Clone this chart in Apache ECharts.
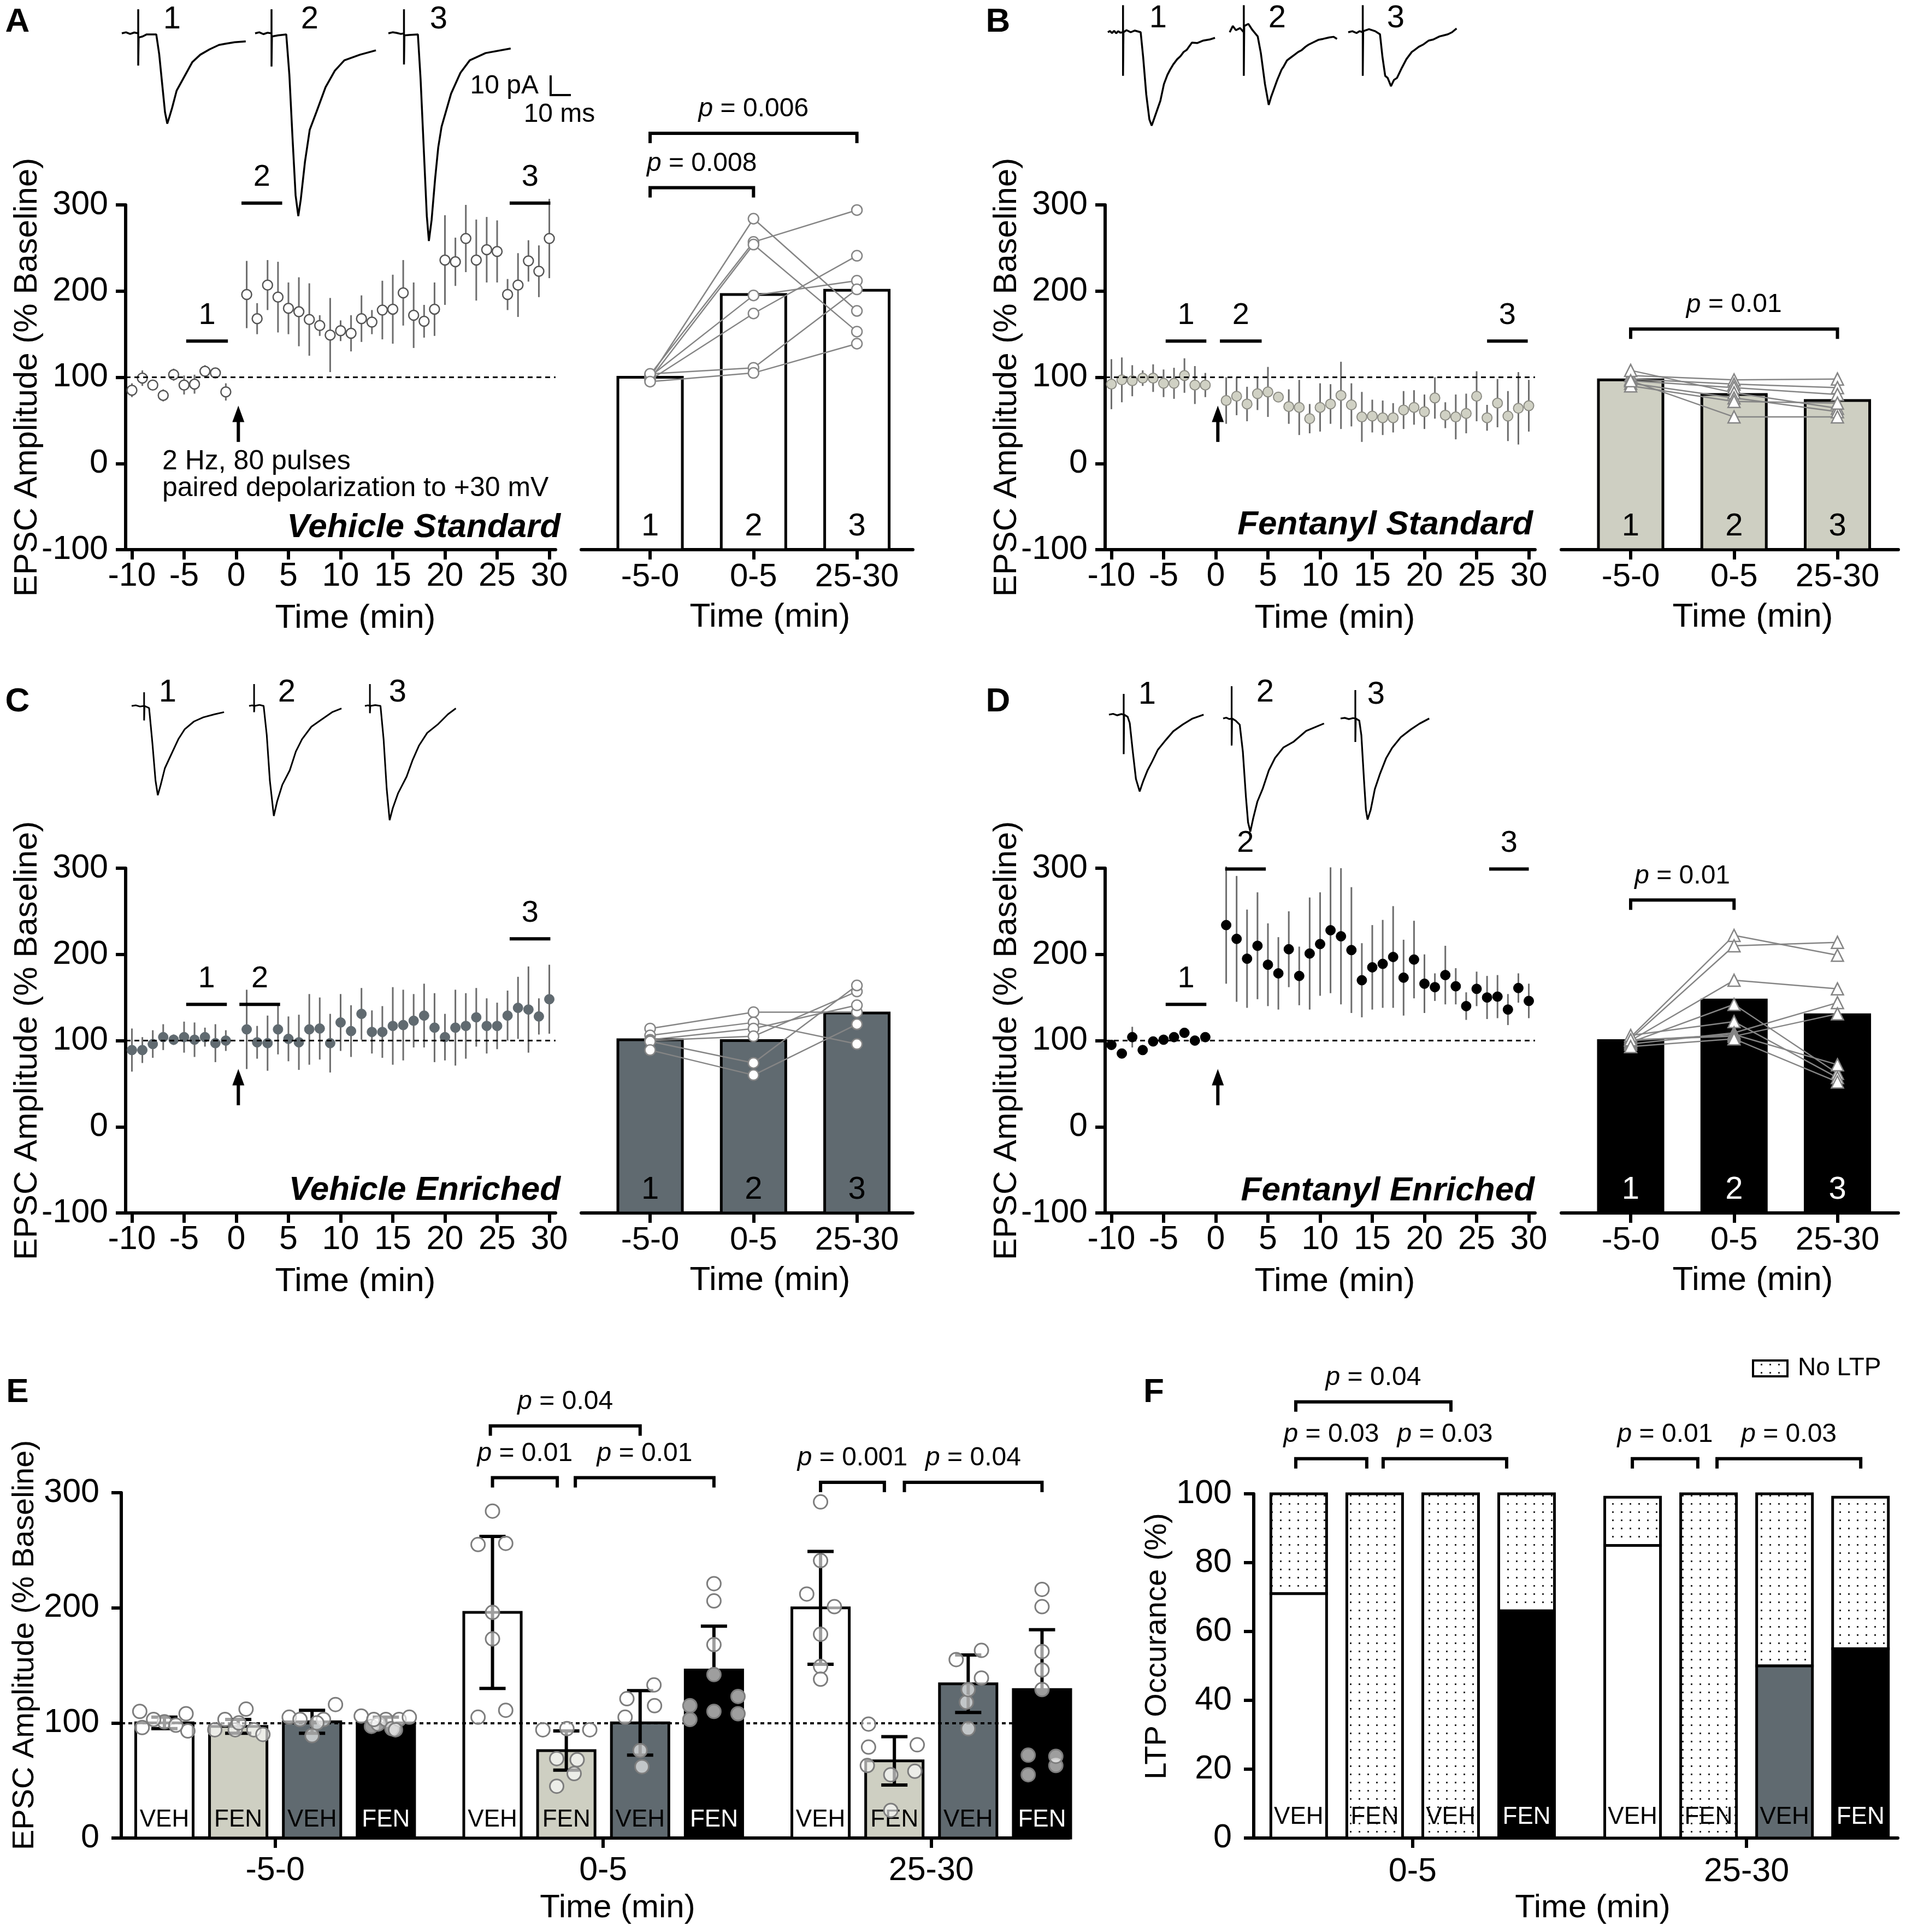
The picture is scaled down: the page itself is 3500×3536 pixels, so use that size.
<!DOCTYPE html>
<html lang="en">
<head>
<meta charset="UTF-8">
<title>EPSC LTP figure</title>
<style>
  html, body { margin: 0; padding: 0; background: #ffffff; }
  #chart { width: 3500px; height: 3536px; }
</style>
</head>
<body>
<div id="chart"></div>
<script src="https://cdn.jsdelivr.net/npm/echarts@6.0.0/dist/echarts.min.js"></script>
<script>
var FONT = "'Liberation Sans', Arial, Helvetica, sans-serif";
var TICK = 61;

// ---------- time course data (% baseline, mean and SEM) ----------
var minutes = [-10, -9, -8, -7, -6, -5, -4, -3, -2, -1, 1, 2, 3, 4, 5, 6, 7, 8, 9, 10,
    11, 12, 13, 14, 15, 16, 17, 18, 19, 20, 21, 22, 23, 24, 25, 26, 27, 28, 29, 30];
var timeTicks = [-10, -5, 0, 5, 10, 15, 20, 25, 30];

var aMean = [85, 99, 91, 79, 103, 91, 92, 107, 105, 83, 196, 168, 207, 193, 180, 176, 167, 160, 149, 154,
    151, 168, 164, 178, 179, 198, 172, 165, 179, 236, 234, 261, 236, 248, 246, 196, 207, 235, 223, 261];
var aSem = [8, 9, 6, 7, 7, 11, 11, 7, 5, 10, 39, 18, 29, 41, 30, 40, 42, 12, 43, 12,
    21, 27, 14, 34, 40, 38, 38, 19, 31, 52, 28, 39, 47, 38, 36, 18, 37, 24, 30, 46];
var bMean = [92, 97, 96, 99, 99, 93, 93, 102, 91, 91, 73, 78, 69, 81, 83, 77, 66, 65, 52, 65,
    69, 79, 68, 54, 55, 53, 53, 62, 65, 60, 76, 56, 54, 58, 78, 53, 70, 55, 64, 67];
var bSem = [29, 26, 18, 9, 16, 16, 18, 20, 22, 14, 27, 22, 20, 19, 29, 5, 20, 32, 17, 28,
    23, 39, 25, 29, 19, 20, 17, 22, 20, 20, 24, 15, 26, 23, 29, 15, 28, 29, 42, 30];
var cMean = [89, 89, 96, 104, 101, 104, 101, 104, 97, 100, 113, 98, 97, 113, 102, 98, 113, 114, 97, 121,
    111, 131, 110, 110, 117, 118, 123, 129, 115, 104, 115, 117, 127, 117, 117, 129, 138, 136, 128, 148];
var cSem = [25, 15, 16, 15, 6, 18, 20, 11, 22, 12, 46, 19, 32, 29, 26, 32, 41, 36, 34, 33,
    30, 30, 25, 30, 45, 41, 31, 37, 40, 27, 44, 38, 34, 32, 27, 29, 36, 50, 21, 40];
var dMean = [95, 85, 104, 89, 99, 101, 104, 109, 100, 104, 234, 218, 195, 210, 188, 178, 206, 175, 201, 212,
    228, 221, 205, 170, 185, 189, 197, 173, 194, 166, 162, 176, 163, 140, 160, 150, 151, 136, 161, 146];
var dSem = [5, 3, 12, 3, 2, 4, 4, 5, 4, 4, 68, 73, 57, 62, 48, 42, 44, 34, 65, 60,
    73, 79, 73, 43, 49, 51, 59, 44, 45, 34, 16, 34, 21, 16, 20, 25, 25, 18, 17, 20];

// epoch bars above the time courses: [from min, to min, level]
var aMarks = [[-4.8, -0.8, 142], [0.5, 4.4, 302], [26.2, 30.1, 302]];
var bMarks = [[-4.8, -0.9, 142], [0.4, 4.4, 142], [26.0, 29.9, 142]];
var cMarks = [[-4.8, -0.9, 142], [0.3, 4.2, 142], [26.2, 30.1, 218]];
var dMarks = [[-4.8, -0.9, 142], [0.9, 4.8, 299], [26.2, 30.0, 299]];
var stimArrow = [0.2, 25, 67];

// ---------- epoch bar charts ----------
var barCats = ['-5-0', '0-5', '25-30'];
var aBar = [100, 196, 201];
var aCells = [[103, 257, 294], [100, 284, 177], [98, 254, 153], [101, 195, 212], [97, 174, 241], [104, 111, 202], [95, 105, 139]];
var bBar = [97, 80, 73];
var bCells = [[102, 97, 98], [98, 92, 88], [96, 88, 80], [108, 82, 64], [93, 76, 60], [90, 72, 70], [96, 54, 54]];
var cBar = [101, 100, 132];
var cCells = [[114, 133, 133], [106, 121, 96], [101, 114, 141], [100, 105, 157], [99, 74, 164], [89, 60, 119]];
var dBar = [100, 147, 130];
var dCells = [[104, 222, 199], [102, 210, 214], [100, 170, 160], [98, 142, 62], [106, 122, 57],
    [96, 109, 144], [100, 107, 72], [101, 105, 131], [93, 102, 52]];
var aSig = [[0, 1, 320], [0, 2, 383]];
var aSigP = ['0.008', '0.006'];
var bSig = [[0, 2, 156]];
var bSigP = ['0.01'];
var dSig = [[0, 1, 263]];
var dSigP = ['0.01'];

// ---------- panel E: group summary (mean, SD, cells as [jitter, value]) ----------
var eGroups = ['-5-0', '0-5', '25-30'];
var eVehStd = [100, 196, 200];
var eVehStdSd = [5, 66, 49];
var eFenStd = [97, 76, 67];
var eFenStdSd = [6, 17, 21];
var eVehEnr = [101, 100, 134];
var eVehEnrSd = [10, 28, 25];
var eFenEnr = [100, 146, 129];
var eFenEnrSd = [5, 38, 52];
var ePtsVehStd = [
    [[-0.41, 110], [-0.37, 96], [0.36, 108], [0.39, 93], [0, 101], [-0.18, 103], [0.19, 98]],
    [[0, 284], [-0.24, 255], [0.22, 256], [0, 196], [0, 173], [0.22, 111], [-0.24, 105]],
    [[0, 292], [0, 241], [-0.23, 212], [0.23, 201], [0, 177], [0, 149], [0, 138]]
];
var ePtsFenStd = [
    [[-0.39, 94], [-0.22, 103], [0.13, 112], [-0.05, 94], [0.26, 94], [0.41, 90], [0.01, 100]],
    [[-0.39, 94], [0.01, 95], [0.39, 94], [-0.16, 69], [0.18, 68], [0.13, 56], [-0.16, 45]],
    [[-0.43, 99], [-0.43, 79], [0.38, 81], [-0.45, 63], [0.34, 58], [-0.06, 55], [-0.06, 24]]
];
var ePtsVehEnr = [
    [[-0.38, 105], [-0.2, 103], [0, 89], [0.19, 103], [0.39, 116], [0.08, 100]],
    [[-0.22, 121], [0.23, 133], [0.24, 115], [-0.25, 105], [0, 76], [0.03, 62]],
    [[-0.2, 155], [0.22, 163], [0.22, 139], [-0.03, 118], [0, 95], [0, 129]]
];
var ePtsFenEnr = [
    [[-0.41, 106], [-0.24, 97], [-0.13, 99], [0, 103], [0.1, 95], [0.22, 103], [0.39, 105], [0.16, 94], [-0.2, 103]],
    [[0, 221], [0, 206], [0, 168], [0, 142], [0.4, 123], [0.4, 108], [-0.4, 103], [0, 110], [-0.4, 115]],
    [[0, 216], [0, 201], [0, 162], [0, 146], [0, 129], [-0.23, 72], [0.23, 63], [-0.23, 55], [0.23, 71]]
];
var eSig = [[0.656, 1.1125, 358], [0.6625, 0.86, 313], [0.915, 1.3375, 313], [1.6625, 1.857, 309], [1.918, 2.3375, 309]];
var eSigP = ['0.04', '0.01', '0.01', '0.001', '0.04'];

// ---------- panel F: LTP occurrence (%) ----------
var fGroups = ['0-5', '25-30'];
var fLtpVehStd = [71, 85];
var fNoVehStd = [29, 14];
var fLtpFenStd = [0, 0];
var fNoFenStd = [100, 100];
var fLtpVehEnr = [0, 50];
var fNoVehEnr = [100, 50];
var fLtpFenEnr = [66, 55];
var fNoFenEnr = [34, 44];
var fSig = [[-0.35, 0.1146, 126.7], [-0.35, -0.1375, 110.2], [-0.0884, 0.2815, 110.2], [0.658, 0.854, 110.2], [0.9116, 1.342, 110.2]];
var fSigP = ['0.04', '0.03', '0.03', '0.01', '0.03'];

// ---------- example EPSC traces: [time, current] ----------
var trA1 = [[0, 0], [2, 0.5], [4, -0.3], [6, 0.4], [7.9, 0], [7.9, 11.6], [7.9, -15.5], [8.1, -2], [10, -1.5], [12, -0.5], [14, -0.5],
    [16.6, -0.5], [18, -10], [19.5, -25], [20.8, -38], [21.9, -43.5], [23, -40], [24.2, -36], [26.4, -27.6], [30.2, -20.7],
    [34, -13.8], [37.8, -10.3], [42.3, -7.7], [46.8, -5.6], [50, -5], [54.4, -4.3], [59.7, -3.9]];
var trA2 = [[0, 0], [2, 0.5], [4, -0.4], [6, 0.3], [7.9, 0], [7.9, 11.6], [7.9, -16], [8.1, -1.5], [11, -1], [15, -0.5], [16.5, -20],
    [18, -50], [19.5, -78], [20.8, -88], [22, -80], [24, -62], [26.3, -46.5], [29.5, -38], [33.9, -26], [38.4, -18], [43, -13],
    [50.5, -10.3], [58.2, -8.2]];
var trA3 = [[0, 0], [2, 0.5], [4, 0.2], [6, -0.3], [7.5, 0], [7.5, 11.6], [7.5, -15], [7.7, -1], [10, -0.8], [14.2, -0.5], [15.5, -22],
    [17, -55], [18.5, -88], [19.5, -100], [20.8, -90], [22.5, -70], [24, -55], [25.6, -45], [30.2, -29], [34.7, -19], [39.2, -13],
    [46.8, -9.5], [58.9, -7.3]];
var trB1 = [[0, 0], [1, 0.6], [2, -0.4], [3, 0.7], [4, -0.5], [5, 0.5], [6, -0.2], [7.3, 0], [7.3, 13], [7.3, -21], [7.5, 0], [9, 1],
    [11, 0], [13, 0.8], [15.8, 0], [17, -12], [18.5, -30], [20, -42], [21.1, -45], [22.5, -41], [25.3, -33], [27, -25], [28.7, -20.5],
    [30, -18], [31.5, -15.5], [33.4, -13], [35, -11.5], [36.5, -9.5], [38, -8.5], [40.5, -5], [43, -5.2], [46, -4], [49, -3.5], [51.6, -2.7]];
var trB2 = [[0, 0], [1.5, 3], [3, 1], [5, 2], [6.8, 0], [6.8, 13], [6.8, -21], [7, 3], [9, 4], [11, 1], [13.5, -2], [15, -10],
    [17, -25], [18.8, -35], [20, -31], [22.9, -23], [25, -18], [26, -16.5], [27.6, -13.6], [29, -12.5], [31, -11], [33, -9.5],
    [34.7, -8.6], [36.5, -7], [38, -6], [40, -5], [42.9, -3.6], [45, -3.2], [48, -2.5], [50, -2.2], [51.7, -3.2]];
var trB3 = [[0, 0], [2, 0.5], [4, -0.4], [5.5, 0.5], [7, 0], [7, 13], [7, -21], [7.2, 0.5], [10, 1.5], [13, 0.5], [15.3, -1],
    [16.5, -12], [17.8, -21], [19, -22], [20.6, -26], [22, -23], [23.5, -22], [25.9, -17], [28, -13], [30.6, -9.5], [32, -8.5],
    [34, -7], [36, -6], [38.8, -4], [41, -3.5], [44, -2], [46, -1.5], [48, -1], [50, 0], [52.2, 1.8]];
var trC1 = [[0, 0], [2, 0.3], [4, -0.3], [6, 0], [6, 6.6], [6, -7], [6.2, 0], [8.4, -1], [10, -18], [11.5, -36], [12.6, -43], [14, -38],
    [16, -30], [19.7, -22], [22.5, -16], [25.5, -11.3], [30, -7.5], [34.5, -5.5], [40, -4], [44.5, -3]];
var trC2 = [[0, 0], [1.5, 0.3], [2.4, 0], [2.4, 10.5], [2.4, -3], [2.6, 0], [5, 0.5], [7, 0], [8.5, -14], [10, -36], [11.9, -53],
    [13.5, -46], [16, -38], [19.6, -31], [22.5, -22], [25.5, -16], [30, -10], [34.3, -7], [40, -3], [44.5, -1.2]];
var trC3 = [[0, 0], [1.5, 0.3], [2.4, 0], [2.4, 10.5], [2.4, -3.5], [2.6, 0], [5, 0.4], [7.5, 0], [9, -16], [10.5, -40], [11.9, -55],
    [13.5, -49], [16, -42], [20.1, -34], [23, -26], [26.1, -19], [30, -13], [35, -9], [40, -4], [43.8, -1.2]];
var trD1 = [[0, 0], [2, 0.4], [4, -0.3], [6, 0.3], [7.1, 0], [7.1, 10], [7.1, -19], [7.3, 0], [9, -1], [10, -4], [11.5, -18], [13, -31],
    [14.8, -37], [16.5, -32], [18.5, -27], [20.8, -22.6], [23.5, -17], [26.7, -13], [31, -8], [35.6, -4.7], [40, -2], [45.6, 0]];
var trD2 = [[0, 0], [1.5, 0.4], [3, -0.3], [4.1, 0], [4.1, 15.5], [4.1, -13], [4.3, 0], [6, -1], [8, -3], [9.5, -16], [11, -38],
    [12, -50], [13.1, -54.5], [14.5, -48], [16.5, -40], [19, -34], [22, -25], [25, -19], [29, -14], [33.8, -11.3], [40, -6], [48.6, -2.4]];
var trD3 = [[0, 0], [2, 0.3], [4, -0.3], [6, 0.2], [7.1, 0], [7.1, 13.7], [7.1, -11.3], [7.3, 0], [9, -1], [10, -8], [11.3, -30],
    [12.2, -44], [13, -48.7], [14.5, -44], [16.5, -34], [19, -26.6], [22, -19], [24.8, -14.2], [29, -9], [33.8, -5.3], [38, -2.5], [42.7, 0]];

// ---------- colours ----------
var C_BEIGE = '#cecfc2';
var C_SLATE = '#606a70';

// dotted fill used for "No LTP"
var dots = document.createElement('canvas');
dots.width = 16; dots.height = 15;
(function () {
    var ctx = dots.getContext('2d');
    ctx.fillStyle = '#ffffff';
    ctx.fillRect(0, 0, 16, 15);
    ctx.fillStyle = '#2a2a2a';
    ctx.fillRect(7, 6, 3, 3);
})();
var dotFill = {image: dots, repeat: 'repeat'};

// ---------- helpers ----------
function textStyle(s, size, o) {
    o = o || {};
    return {
        text: s, fontSize: size, fontFamily: FONT,
        fontWeight: o.bold ? 'bold' : 'normal', fontStyle: o.italic ? 'italic' : 'normal',
        fill: o.color || '#000', align: o.align || 'center', verticalAlign: 'middle',
        textAlign: o.align || 'center', textVerticalAlign: 'middle',
        rich: {i: {fontStyle: 'italic', fontSize: size, fontFamily: FONT, fill: o.color || '#000'}}
    };
}
function txt(x, y, s, size, o) {
    return {type: 'text', x: x, y: y, silent: true, z: 50, style: textStyle(s, size, o)};
}

function errRender(params, api) {
    var x = api.value(0), m = api.value(1), s = api.value(2);
    var p1 = api.coord([x, m - s]), p2 = api.coord([x, m + s]);
    return {type: 'line', shape: {x1: p1[0], y1: p1[1], x2: p2[0], y2: p2[1]}, style: {stroke: '#6d6d6d', lineWidth: 3}};
}
function markRender(params, api) {
    var p1 = api.coord([api.value(0), api.value(2)]), p2 = api.coord([api.value(1), api.value(2)]);
    return {type: 'group', children: [
        {type: 'line', shape: {x1: p1[0], y1: p1[1], x2: p2[0], y2: p2[1]}, style: {stroke: '#000', lineWidth: 6}},
        {type: 'text', x: (p1[0] + p2[0]) / 2, y: p1[1] - 47, style: textStyle(String(params.dataIndex + 1), 56)}
    ]};
}
function arrowRender(params, api) {
    var tail = api.coord([api.value(0), api.value(1)]), tip = api.coord([api.value(0), api.value(2)]);
    var hh = 30, hw = 11;
    return {type: 'group', children: [
        {type: 'line', shape: {x1: tail[0], y1: tail[1], x2: tip[0], y2: tip[1] + hh - 2}, style: {stroke: '#000', lineWidth: 6}},
        {type: 'polygon', shape: {points: [[tip[0], tip[1]], [tip[0] - hw, tip[1] + hh], [tip[0] + hw, tip[1] + hh]]}, style: {fill: '#000'}}
    ]};
}
function makeBarRender(fill, labelColor) {
    return function (params, api) {
        var x = api.value(0), v = api.value(1);
        var w = api.size([0.65, 0])[0] - 5;
        var top = api.coord([x, v]), bot = api.coord([x, -100]);
        return {type: 'group', children: [
            {type: 'rect', shape: {x: top[0] - w / 2, y: top[1], width: w, height: bot[1] - top[1]},
                style: {fill: fill, stroke: '#000', lineWidth: 5}},
            {type: 'text', x: top[0], y: bot[1] - 42, style: textStyle(String(params.dataIndex + 1), 58, {color: labelColor})}
        ]};
    };
}
function makeSigRender(labels) {
    return function (params, api) {
        var y = api.value(2);
        var p1 = api.coord([api.value(0), y]), p2 = api.coord([api.value(1), y]);
        var t = 18;
        return {type: 'group', children: [
            {type: 'polyline', shape: {points: [[p1[0], p1[1] + t], [p1[0], p1[1]], [p2[0], p2[1]], [p2[0], p2[1] + t]]},
                style: {stroke: '#000', lineWidth: 6, fill: 'none'}},
            {type: 'text', x: (p1[0] + p2[0]) / 2, y: p1[1] - 44, style: textStyle('{i|p} = ' + labels[params.dataIndex], 48)}
        ]};
    };
}
function makeEBarRender(fill, label, labelColor) {
    return function (params, api) {
        var x = api.value(0), m = api.value(1), sd = api.value(2);
        var w = api.size([0.1833, 0])[0] - 5;
        var top = api.coord([x, m]), bot = api.coord([x, 0]);
        var hi = api.coord([x, m + sd]), lo = api.coord([x, m - sd]);
        var cw = 24;
        return {type: 'group', children: [
            {type: 'rect', shape: {x: top[0] - w / 2, y: top[1], width: w, height: bot[1] - top[1]},
                style: {fill: fill, stroke: '#000', lineWidth: 5}},
            {type: 'text', x: top[0], y: bot[1] - 33, style: textStyle(label, 44, {color: labelColor})},
            {type: 'line', shape: {x1: hi[0], y1: hi[1], x2: lo[0], y2: lo[1]}, style: {stroke: '#000', lineWidth: 6}},
            {type: 'line', shape: {x1: hi[0] - cw, y1: hi[1], x2: hi[0] + cw, y2: hi[1]}, style: {stroke: '#000', lineWidth: 6}},
            {type: 'line', shape: {x1: lo[0] - cw, y1: lo[1], x2: lo[0] + cw, y2: lo[1]}, style: {stroke: '#000', lineWidth: 6}}
        ]};
    };
}
function makeFRender(fill, label, labelColor) {
    return function (params, api) {
        var x = api.value(0), l = api.value(1), n = api.value(2);
        var w = api.size([0.1751, 0])[0] - 5;
        var p0 = api.coord([x, 0]), p1 = api.coord([x, l]), p2 = api.coord([x, l + n]);
        var ch = [];
        if (n > 0) {
            ch.push({type: 'rect', shape: {x: p0[0] - w / 2, y: p2[1], width: w, height: p1[1] - p2[1]},
                style: {fill: dotFill, stroke: '#000', lineWidth: 5}});
        }
        if (l > 0) {
            ch.push({type: 'rect', shape: {x: p0[0] - w / 2, y: p1[1], width: w, height: p0[1] - p1[1]},
                style: {fill: fill, stroke: '#000', lineWidth: 5}});
        }
        ch.push({type: 'text', x: p0[0], y: p0[1] - 38, style: textStyle(label, 44, {color: l > 0 ? labelColor : '#000'})});
        return {type: 'group', children: ch};
    };
}

var axisLineStyle = {color: '#000', width: 6};

// ---------- build option ----------
var option = {
    animation: false,
    backgroundColor: '#ffffff',
    textStyle: {fontFamily: FONT},
    grid: [], xAxis: [], yAxis: [], series: [], graphic: []
};

function addGrid(box) {
    option.grid.push({left: box[0], top: box[1], width: box[2], height: box[3], containLabel: false, outerBoundsMode: 'none'});
    return option.grid.length - 1;
}

function timeAxes(g) {
    option.xAxis.push({
        gridIndex: g, type: 'value', min: -10.6, max: 30.6,
        axisLine: {onZero: false, lineStyle: axisLineStyle},
        axisTick: {customValues: timeTicks, length: 18, lineStyle: axisLineStyle},
        axisLabel: {customValues: timeTicks, margin: 19, fontSize: TICK, color: '#000', fontFamily: FONT},
        splitLine: {show: false},
        name: 'Time (min)', nameLocation: 'middle', nameGap: 95, nameMoveOverlap: false,
        nameTextStyle: {fontSize: 62, color: '#000', fontFamily: FONT, padding: [0, 0, 0, 54]}
    });
    option.yAxis.push({
        gridIndex: g, type: 'value', min: -100, max: 300, interval: 100,
        axisLine: {show: true, onZero: false, lineStyle: axisLineStyle},
        axisTick: {show: true, length: 18, lineStyle: axisLineStyle},
        axisLabel: {margin: 32, fontSize: TICK, color: '#000', fontFamily: FONT},
        splitLine: {show: false},
        name: 'EPSC Amplitude (% Baseline)', nameLocation: 'middle', nameGap: 150, nameMoveOverlap: false,
        nameTextStyle: {fontSize: 60, color: '#000', fontFamily: FONT}
    });
}
function barAxes(g, min, max) {
    option.xAxis.push({
        gridIndex: g, type: 'value', min: min, max: max,
        axisLine: {onZero: false, lineStyle: axisLineStyle},
        axisTick: {customValues: [0, 1, 2], length: 18, lineStyle: axisLineStyle},
        axisLabel: {customValues: [0, 1, 2], margin: 20, fontSize: 60, color: '#000', fontFamily: FONT,
            formatter: function (v) { return barCats[Math.round(v)]; }},
        splitLine: {show: false},
        name: 'Time (min)', nameLocation: 'middle', nameGap: 93, nameMoveOverlap: false,
        nameTextStyle: {fontSize: 62, color: '#000', fontFamily: FONT, padding: [0, 0, 0, 84]}
    });
    option.yAxis.push({gridIndex: g, type: 'value', min: -100, max: 300, show: false,
        axisLine: {onZero: false}, splitLine: {show: false}});
}

var timePanels = [
    {box: [230, 375, 787, 631], mean: aMean, sem: aSem, marks: aMarks, fill: '#ffffff', stroke: '#555555', bw: 2.5},
    {box: [2023, 375, 787, 631], mean: bMean, sem: bSem, marks: bMarks, fill: '#d0d1c4', stroke: '#8c8c84', bw: 2},
    {box: [230, 1589, 787, 631], mean: cMean, sem: cSem, marks: cMarks, fill: C_SLATE, stroke: C_SLATE, bw: 1},
    {box: [2023, 1589, 787, 631], mean: dMean, sem: dSem, marks: dMarks, fill: '#000000', stroke: '#000000', bw: 1}
];
var barPanels = [
    {box: [1064, 375, 607, 631], min: -0.666, max: 2.541, bars: aBar, cells: aCells, fill: '#ffffff', lc: '#000', sym: 'circle', sig: aSig, sigP: aSigP},
    {box: [2858, 375, 617, 631], min: -0.671, max: 2.589, bars: bBar, cells: bCells, fill: C_BEIGE, lc: '#000', sym: 'triangle', sig: bSig, sigP: bSigP},
    {box: [1064, 1589, 607, 631], min: -0.666, max: 2.541, bars: cBar, cells: cCells, fill: C_SLATE, lc: '#000', sym: 'circle', sig: [], sigP: []},
    {box: [2858, 1589, 617, 631], min: -0.671, max: 2.589, bars: dBar, cells: dCells, fill: '#000000', lc: '#fff', sym: 'triangle', sig: dSig, sigP: dSigP}
];

timePanels.forEach(function (p, k) {
    // time course
    var g = addGrid(p.box);
    timeAxes(g);
    option.series.push({
        type: 'line', xAxisIndex: g, yAxisIndex: g, data: [], z: 1, silent: true,
        markLine: {silent: true, symbol: 'none', label: {show: false}, animation: false,
            lineStyle: {color: '#000', type: [9, 7], width: 3}, data: [{yAxis: 100}]}
    });
    option.series.push({
        type: 'custom', xAxisIndex: g, yAxisIndex: g, z: 2, silent: true, renderItem: errRender,
        data: minutes.map(function (m, i) { return [m, p.mean[i], p.sem[i]]; })
    });
    option.series.push({
        type: 'scatter', xAxisIndex: g, yAxisIndex: g, z: 3, silent: true, symbol: 'circle', symbolSize: 18,
        itemStyle: {color: p.fill, borderColor: p.stroke, borderWidth: p.bw, opacity: 1},
        data: minutes.map(function (m, i) { return [m, p.mean[i]]; })
    });
    option.series.push({
        type: 'custom', xAxisIndex: g, yAxisIndex: g, z: 4, silent: true, clip: false, renderItem: markRender, data: p.marks
    });
    option.series.push({
        type: 'custom', xAxisIndex: g, yAxisIndex: g, z: 4, silent: true, clip: false, renderItem: arrowRender, data: [stimArrow]
    });

    // epoch bars
    var b = barPanels[k];
    var gb = addGrid(b.box);
    barAxes(gb, b.min, b.max);
    option.series.push({
        type: 'custom', xAxisIndex: gb, yAxisIndex: gb, z: 2, silent: true, renderItem: makeBarRender(b.fill, b.lc),
        data: b.bars.map(function (v, i) { return [i, v]; })
    });
    b.cells.forEach(function (cell) {
        option.series.push({
            type: 'line', xAxisIndex: gb, yAxisIndex: gb, z: 5, silent: true,
            data: cell.map(function (v, i) { return [i, v]; }),
            symbol: b.sym, symbolSize: b.sym === 'triangle' ? 22 : 19, showSymbol: true,
            lineStyle: {color: '#858585', width: 2.5},
            itemStyle: {color: '#ffffff', borderColor: '#858585', borderWidth: 2.5}
        });
    });
    if (b.sig.length) {
        option.series.push({
            type: 'custom', xAxisIndex: gb, yAxisIndex: gb, z: 6, silent: true, clip: false,
            renderItem: makeSigRender(b.sigP), data: b.sig
        });
    }
});

// ---------- panel E ----------
var gE = addGrid([222, 2732, 1735, 632]);
option.xAxis.push({
    gridIndex: gE, type: 'value', min: -0.469, max: 2.42,
    axisLine: {onZero: false, lineStyle: axisLineStyle},
    axisTick: {customValues: [0, 1, 2], length: 18, lineStyle: axisLineStyle},
    axisLabel: {customValues: [0, 1, 2], margin: 30, fontSize: TICK, color: '#000', fontFamily: FONT,
        formatter: function (v) { return eGroups[Math.round(v)]; }},
    splitLine: {show: false},
    name: 'Time (min)', nameLocation: 'middle', nameGap: 98, nameMoveOverlap: false,
    nameTextStyle: {fontSize: 60, color: '#000', fontFamily: FONT, padding: [0, 0, 0, 82]}
});
option.yAxis.push({
    gridIndex: gE, type: 'value', min: 0, max: 300, interval: 100,
    axisLine: {show: true, onZero: false, lineStyle: axisLineStyle},
    axisTick: {show: true, length: 18, lineStyle: axisLineStyle},
    axisLabel: {margin: 40, fontSize: TICK, color: '#000', fontFamily: FONT},
    splitLine: {show: false},
    name: 'EPSC Amplitude (% Baseline)', nameLocation: 'middle', nameGap: 148, nameMoveOverlap: false,
    nameTextStyle: {fontSize: 56, color: '#000', fontFamily: FONT, padding: [0, 0, 0, 74]}
});
var eSets = [
    {mean: eVehStd, sd: eVehStdSd, pts: ePtsVehStd, fill: '#ffffff', label: 'VEH', lc: '#000'},
    {mean: eFenStd, sd: eFenStdSd, pts: ePtsFenStd, fill: C_BEIGE, label: 'FEN', lc: '#000'},
    {mean: eVehEnr, sd: eVehEnrSd, pts: ePtsVehEnr, fill: C_SLATE, label: 'VEH', lc: '#000'},
    {mean: eFenEnr, sd: eFenEnrSd, pts: ePtsFenEnr, fill: '#000000', label: 'FEN', lc: '#ffffff'}
];
eSets.forEach(function (s, k) {
    var off = (k - 1.5) * 0.225;
    option.series.push({
        type: 'custom', xAxisIndex: gE, yAxisIndex: gE, z: 2, silent: true,
        renderItem: makeEBarRender(s.fill, s.label, s.lc),
        data: s.mean.map(function (v, i) { return [i + off, v, s.sd[i]]; })
    });
    var pts = [];
    s.pts.forEach(function (grp, i) {
        grp.forEach(function (pt) { pts.push([i + off + pt[0] * 0.1833, pt[1]]); });
    });
    option.series.push({
        type: 'scatter', xAxisIndex: gE, yAxisIndex: gE, z: 5, silent: true, symbol: 'circle', symbolSize: 25,
        itemStyle: {color: 'rgba(255,255,255,0.62)', borderColor: '#7d7d7d', borderWidth: 3, opacity: 1},
        data: pts
    });
});
option.series.push({
    type: 'line', xAxisIndex: gE, yAxisIndex: gE, data: [], z: 4, silent: true,
    markLine: {silent: true, symbol: 'none', label: {show: false}, animation: false,
        lineStyle: {color: '#000', type: [7, 6], width: 4}, data: [{yAxis: 100}]}
});
option.series.push({
    type: 'custom', xAxisIndex: gE, yAxisIndex: gE, z: 6, silent: true, clip: false,
    renderItem: makeSigRender(eSigP), data: eSig
});

// ---------- panel F ----------
var gF = addGrid([2295, 2734, 1179, 630]);
option.xAxis.push({
    gridIndex: gF, type: 'value', min: -0.476, max: 1.453,
    axisLine: {onZero: false, lineStyle: axisLineStyle},
    axisTick: {customValues: [0, 1], length: 18, lineStyle: axisLineStyle},
    axisLabel: {customValues: [0, 1], margin: 32, fontSize: TICK, color: '#000', fontFamily: FONT,
        formatter: function (v) { return fGroups[Math.round(v)]; }},
    splitLine: {show: false},
    name: 'Time (min)', nameLocation: 'middle', nameGap: 98, nameMoveOverlap: false,
    nameTextStyle: {fontSize: 60, color: '#000', fontFamily: FONT, padding: [0, 0, 0, 62]}
});
option.yAxis.push({
    gridIndex: gF, type: 'value', min: 0, max: 100, interval: 20,
    axisLine: {show: true, onZero: false, lineStyle: axisLineStyle},
    axisTick: {show: true, length: 18, lineStyle: axisLineStyle},
    axisLabel: {margin: 40, fontSize: TICK, color: '#000', fontFamily: FONT},
    splitLine: {show: false},
    name: 'LTP Occurance (%)', nameLocation: 'middle', nameGap: 148, nameMoveOverlap: false,
    nameTextStyle: {fontSize: 56, color: '#000', fontFamily: FONT, padding: [0, 0, 0, 72]}
});
var fSets = [
    {ltp: fLtpVehStd, no: fNoVehStd, fill: '#ffffff', label: 'VEH', lc: '#000'},
    {ltp: fLtpFenStd, no: fNoFenStd, fill: C_BEIGE, label: 'FEN', lc: '#000'},
    {ltp: fLtpVehEnr, no: fNoVehEnr, fill: C_SLATE, label: 'VEH', lc: '#000'},
    {ltp: fLtpFenEnr, no: fNoFenEnr, fill: '#000000', label: 'FEN', lc: '#ffffff'}
];
fSets.forEach(function (s, k) {
    var off = (k - 1.5) * 0.2275;
    option.series.push({
        type: 'custom', xAxisIndex: gF, yAxisIndex: gF, z: 2, silent: true,
        renderItem: makeFRender(s.fill, s.label, s.lc),
        data: s.ltp.map(function (v, i) { return [i + off, v, s.no[i]]; })
    });
});
option.series.push({
    type: 'custom', xAxisIndex: gF, yAxisIndex: gF, z: 6, silent: true, clip: false,
    renderItem: makeSigRender(fSigP), data: fSig
});

// ---------- traces ----------
var K = 3.8, TMIN = -106, TMAX = 16;
var traces = [
    {d: trA1, x: 223, y: 61, w: 3.5}, {d: trA2, x: 467, y: 61, w: 3.5}, {d: trA3, x: 711, y: 61, w: 3.5},
    {d: trB1, x: 2028, y: 59, w: 3.5}, {d: trB2, x: 2251, y: 59, w: 3.5}, {d: trB3, x: 2468, y: 59, w: 3.5},
    {d: trC1, x: 241, y: 1292, w: 3}, {d: trC2, x: 456, y: 1292, w: 3}, {d: trC3, x: 668, y: 1292, w: 3},
    {d: trD1, x: 2030, y: 1308, w: 3.2}, {d: trD2, x: 2239, y: 1315, w: 3.2}, {d: trD3, x: 2454, y: 1315, w: 3.2}
];
traces.forEach(function (t) {
    var tEnd = t.d[t.d.length - 1][0];
    var g = addGrid([t.x, t.y - TMAX * K, tEnd * K, (TMAX - TMIN) * K]);
    option.xAxis.push({gridIndex: g, type: 'value', min: 0, max: tEnd, show: false, axisLine: {onZero: false}, splitLine: {show: false}});
    option.yAxis.push({gridIndex: g, type: 'value', min: TMIN, max: TMAX, show: false, axisLine: {onZero: false}, splitLine: {show: false}});
    option.series.push({
        type: 'line', xAxisIndex: g, yAxisIndex: g, data: t.d, showSymbol: false, symbol: 'none', silent: true, z: 8,
        lineStyle: {color: '#000', width: t.w}
    });
});

// ---------- free text and decorations ----------
option.graphic = [
    txt(32, 41, 'A', 62, {bold: true}), txt(1827, 41, 'B', 62, {bold: true}),
    txt(32, 1285, 'C', 62, {bold: true}), txt(1827, 1285, 'D', 62, {bold: true}),
    txt(32, 2549, 'E', 62, {bold: true}), txt(2112, 2549, 'F', 62, {bold: true}),

    txt(315, 36, '1', 58), txt(567, 36, '2', 58), txt(803, 36, '3', 58),
    txt(2120, 34, '1', 58), txt(2338, 34, '2', 58), txt(2555, 34, '3', 58),
    txt(307, 1268, '1', 58), txt(525, 1268, '2', 58), txt(728, 1268, '3', 58),
    txt(2100, 1272, '1', 58), txt(2316, 1268, '2', 58), txt(2519, 1272, '3', 58),

    {type: 'polyline', silent: true, z: 50, shape: {points: [[1008, 138], [1008, 174], [1045, 174]]},
        style: {stroke: '#000', lineWidth: 4, fill: 'none'}},
    txt(986, 158, '10 pA', 48, {align: 'right'}),
    txt(1024, 210, '10 ms', 48),

    txt(297, 845, '2 Hz, 80 pulses', 50, {align: 'left'}),
    txt(297, 894, 'paired depolarization to +30 mV', 50, {align: 'left'}),

    txt(1026, 966, 'Vehicle Standard', 62, {bold: true, italic: true, align: 'right'}),
    txt(2806, 961, 'Fentanyl Standard', 62, {bold: true, italic: true, align: 'right'}),
    txt(1026, 2179, 'Vehicle Enriched', 62, {bold: true, italic: true, align: 'right'}),
    txt(2809, 2180, 'Fentanyl Enriched', 62, {bold: true, italic: true, align: 'right'}),

    {type: 'rect', silent: true, z: 50, shape: {x: 3209, y: 2490, width: 63, height: 29},
        style: {fill: dotFill, stroke: '#000', lineWidth: 4}},
    txt(3291, 2504, 'No LTP', 46, {align: 'left'})
];

var chart = echarts.init(document.getElementById('chart'), null, {renderer: 'canvas'});
chart.setOption(option);
</script>
</body>
</html>
